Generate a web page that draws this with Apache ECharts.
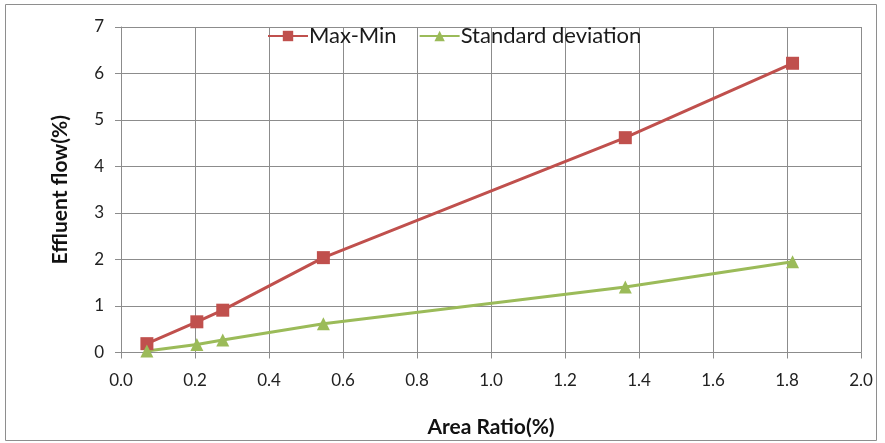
<!DOCTYPE html>
<html>
<head>
<meta charset="utf-8">
<script src="https://cdn.jsdelivr.net/npm/echarts@6/dist/echarts.min.js"></script>
<style>
  html, body { margin: 0; padding: 0; background: #fff; }
  #chart { width: 885px; height: 443px; }
</style>
</head>
<body>
<div id="chart"></div>
<script>
// Area ratio (%) on the x axis
const areaRatio = [0.07, 0.205, 0.275, 0.547, 1.363, 1.815];
// Effluent flow spread (%) per area ratio
const maxMin = [0.19, 0.66, 0.91, 2.04, 4.62, 6.22];
const stdDev = [0.03, 0.17, 0.27, 0.62, 1.41, 1.95];

const seriesNames = ['Max-Min', 'Standard deviation'];
const xTitle = 'Area Ratio(%)';
const yTitle = 'Effluent flow(%)';

const pairs = (xs, ys) => xs.map((x, i) => [x, ys[i]]);

const FONT = 'Lato, "Open Sans", sans-serif';
const GRID = '#8c8c8c';

const chart = echarts.init(document.getElementById('chart'), null, { renderer: 'canvas' });
chart.setOption({
  animation: false,
  backgroundColor: '#fff',
  graphic: [{
    type: 'rect',
    shape: { x: 5.5, y: 4.5, width: 871, height: 436 },
    style: { fill: 'none', stroke: '#8e8e8e', lineWidth: 1 },
    silent: true
  }],
  grid: { left: 121, right: 24, top: 27, bottom: 90.5 },
  legend: {
    top: 20,
    left: 262,
    itemWidth: 40,
    itemHeight: 13,
    itemGap: 22,
    textStyle: { fontFamily: FONT, fontSize: 22, color: '#1a1a1a', padding: [0, 0, 0, -4] },
    data: seriesNames
  },
  xAxis: {
    type: 'value',
    min: 0, max: 2, interval: 0.2,
    name: xTitle,
    nameLocation: 'middle',
    nameGap: 64,
    nameTextStyle: { fontFamily: FONT, fontSize: 21, fontWeight: 'bold', color: '#111' },
    axisLine: { show: true, lineStyle: { color: GRID, width: 1 } },
    axisTick: { show: true, length: 6, lineStyle: { color: GRID } },
    axisLabel: { fontFamily: FONT, fontSize: 17, color: '#222', margin: 20,
      formatter: v => v.toFixed(1) },
    splitLine: { show: true, lineStyle: { color: GRID, width: 1 } }
  },
  yAxis: {
    type: 'value',
    min: 0, max: 7, interval: 1,
    name: yTitle,
    nameLocation: 'middle',
    nameGap: 50,
    nameTextStyle: { fontFamily: FONT, fontSize: 21, fontWeight: 'bold', color: '#111' },
    axisLine: { show: true, lineStyle: { color: GRID, width: 1 } },
    axisTick: { show: true, length: 6, lineStyle: { color: GRID } },
    axisLabel: { fontFamily: FONT, fontSize: 17, color: '#222', margin: 17 },
    splitLine: { show: true, lineStyle: { color: GRID, width: 1 } }
  },
  series: [
    {
      name: seriesNames[0],
      type: 'line',
      data: pairs(areaRatio, maxMin),
      symbol: 'rect',
      symbolSize: 13,
      lineStyle: { color: '#c0504d', width: 3 },
      itemStyle: { color: '#c0504d' }
    },
    {
      name: seriesNames[1],
      type: 'line',
      data: pairs(areaRatio, stdDev),
      symbol: 'triangle',
      symbolSize: 13,
      lineStyle: { color: '#9bbb59', width: 3 },
      itemStyle: { color: '#9bbb59' }
    }
  ]
});
</script>
</body>
</html>
